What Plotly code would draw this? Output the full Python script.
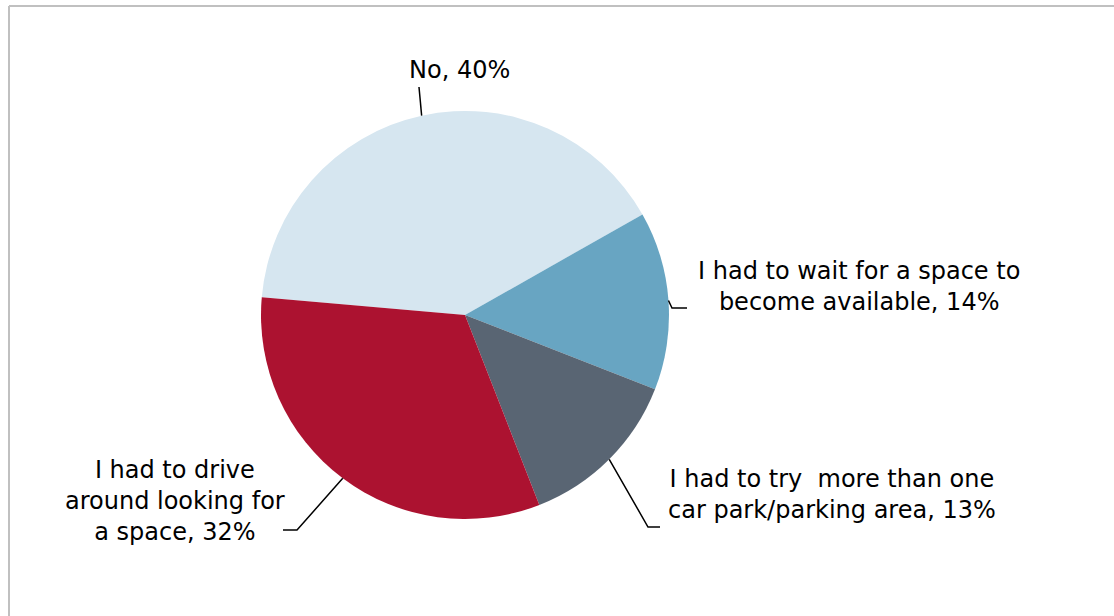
import math
import plotly.graph_objects as go

# Survey answers: problems finding a parking space
categories = [
    "No",
    "I had to wait for a space to become available",
    "I had to try  more than one car park/parking area",
    "I had to drive around looking for a space",
]
values = [40, 14, 13, 32]
label_text = [
    "No, 40%",
    "I had to wait for a space to<br>become available, 14%",
    "I had to try  more than one<br>car park/parking area, 13%",
    "I had to drive<br>around looking for<br>a space, 32%",
]
colors = ["#D6E6F0", "#68A5C2", "#596573", "#AC1230"]

W, H = 1114, 616
CX, CY, R = 465, 315, 204          # pie centre and radius in pixels
ROTATION = 275                     # start angle of first slice (deg, clockwise from top)

# Label layout per slice: elbow points of the leader line and text centre (pixels)
label_layout = [
    {"elbow": [(419, 87)], "text": (459, 70)},
    {"elbow": [(672, 308), (687, 308)], "text": (859, 287)},
    {"elbow": [(648, 527), (660, 527)], "text": (832, 494)},
    {"elbow": [(297, 530), (283, 530)], "text": (175, 501)},
]


def px(x):
    return x / W


def py(y):
    return 1 - y / H


fig = go.Figure(
    go.Pie(
        labels=categories,
        values=values,
        sort=False,
        direction="clockwise",
        rotation=ROTATION,
        marker=dict(colors=colors, line=dict(width=0)),
        textinfo="none",
        hoverinfo="label+percent",
        domain=dict(x=[px(CX - R), px(CX + R)], y=[py(CY + R), py(CY - R)]),
        showlegend=False,
    )
)

shapes = [
    # grey frame along top and left edges
    dict(type="line", xref="paper", yref="paper",
         x0=px(9), y0=py(6), x1=1.0, y1=py(6),
         line=dict(color="#C0C0C0", width=2)),
    dict(type="line", xref="paper", yref="paper",
         x0=px(9), y0=py(6), x1=px(9), y1=0.0,
         line=dict(color="#C0C0C0", width=2)),
]
annotations = []

total = sum(values)
cum = 0
for val, txt, lay in zip(values, label_text, label_layout):
    mid = math.radians(ROTATION + (cum + val / 2) / total * 360)
    cum += val
    ex = CX + R * math.sin(mid)
    ey = CY - R * math.cos(mid)
    pts = [(ex, ey)] + lay["elbow"]
    path = "M " + " L ".join(f"{px(x):.5f},{py(y):.5f}" for x, y in pts)
    shapes.append(dict(type="path", xref="paper", yref="paper", path=path,
                       line=dict(color="#000000", width=1.5)))
    tx, ty = lay["text"]
    annotations.append(dict(
        x=px(tx), y=py(ty), xref="paper", yref="paper",
        text=txt, showarrow=False, align="center",
        xanchor="center", yanchor="middle",
        font=dict(family="DejaVu Sans", size=24, color="#000000"),
    ))

fig.update_layout(
    width=W, height=H,
    margin=dict(l=0, r=0, t=0, b=0),
    paper_bgcolor="#FFFFFF",
    plot_bgcolor="#FFFFFF",
    shapes=shapes,
    annotations=annotations,
)

fig.write_html("out.html")
